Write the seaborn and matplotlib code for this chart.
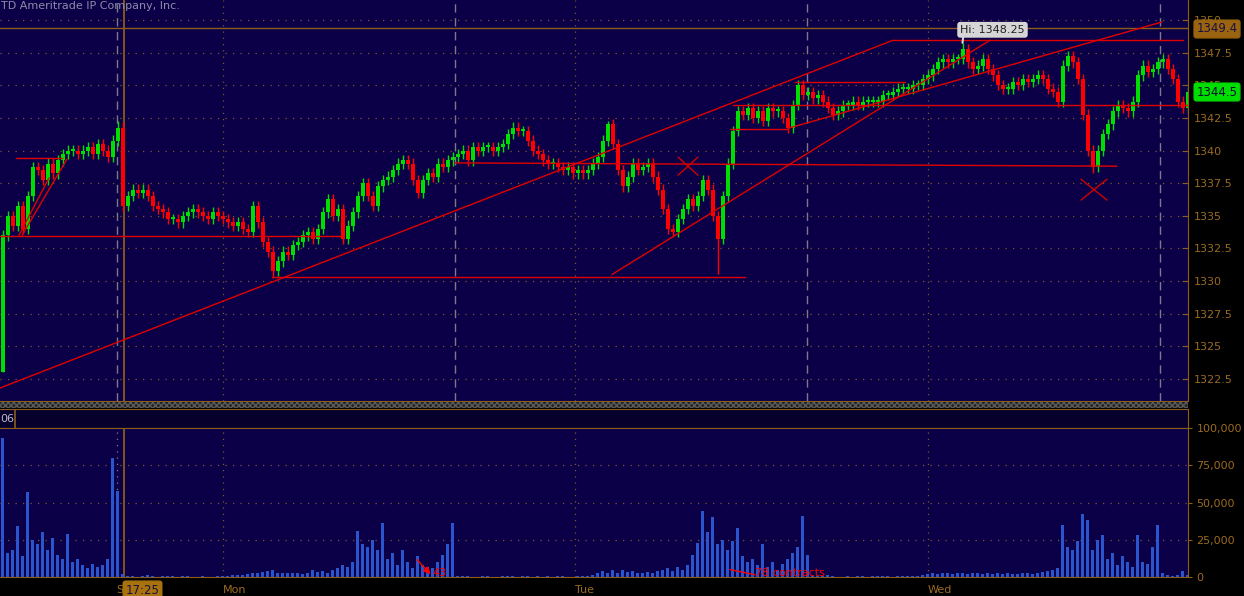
import numpy as np
import pandas as pd
import matplotlib
matplotlib.use('Agg')
import matplotlib.pyplot as plt
import seaborn as sns

# --- data (intraday bars) ---
first_open = 1323.0
closes = [
    1333.5, 1335, 1334.25, 1335.75, 1334, 1336.5, 1338.75, 1338.5, 1337.75, 1339,
    1338.25, 1339.25, 1339.75, 1340, 1340, 1339.75, 1340, 1340.25, 1339.75, 1340.5,
    1340, 1339.5, 1340.75, 1341.75, 1335.75, 1336.5, 1337, 1336.75, 1337, 1336.5,
    1335.75, 1335.5, 1335.25, 1334.75, 1334.75, 1334.5, 1335, 1335.25, 1335.5, 1335.25,
    1335, 1334.75, 1335.25, 1335, 1334.75, 1334.5, 1334.25, 1334.5, 1334, 1333.75,
    1335.75, 1334.5, 1333, 1332.25, 1330.75, 1331.5, 1332.25, 1332, 1332.75, 1333,
    1333.5, 1333.75, 1333.25, 1334, 1335.25, 1336.25, 1335, 1335.5, 1333.25, 1334.25,
    1335.25, 1336.5, 1337.5, 1336.5, 1335.75, 1337.25, 1337.75, 1338, 1338.5, 1339,
    1339.25, 1339, 1337.75, 1336.75, 1337.75, 1338.25, 1338, 1339, 1338.75, 1339.25,
    1339.5, 1339.75, 1340, 1339.25, 1340.25, 1340, 1340.25, 1340.25, 1340, 1340.25,
    1340.5, 1341.25, 1341.75, 1341.5, 1341.5, 1340.75, 1340, 1339.75, 1339.25, 1339,
    1339, 1338.75, 1338.5, 1338.75, 1338.25, 1338.5, 1338.25, 1338.5, 1339, 1339.5,
    1340.75, 1342, 1340.5, 1338.5, 1337.25, 1338, 1339, 1338.5, 1338.75, 1339,
    1338, 1337, 1335.5, 1334, 1333.75, 1334.75, 1335.5, 1336.25, 1335.75, 1336.5,
    1337.75, 1337, 1335, 1333.25, 1336.5, 1339, 1341.5, 1343, 1342.75, 1343.25,
    1342.5, 1343, 1342.25, 1343.25, 1343, 1343, 1342.5, 1341.75, 1343.5, 1345,
    1344.25, 1344.5, 1344, 1344.25, 1343.75, 1343.25, 1342.75, 1343, 1343.5, 1343.5,
    1343.75, 1343.5, 1343.75, 1343.75, 1343.75, 1343.75, 1344.25, 1344.25, 1344.5, 1344.75,
    1344.75, 1344.75, 1345, 1345, 1345.5, 1345.75, 1346.25, 1346.75, 1347, 1346.75,
    1347, 1347, 1347.75, 1346.75, 1346.25, 1346.5, 1347, 1346.25, 1345.75, 1345,
    1344.75, 1344.75, 1345.25, 1345, 1345.5, 1345.25, 1345.5, 1345.75, 1345.5, 1344.75,
    1344.5, 1343.75, 1346.5, 1347.25, 1346.75, 1345.5, 1342.75, 1340, 1338.75, 1340,
    1341.25, 1342, 1343, 1343.5, 1343.25, 1343, 1343.75, 1345.75, 1346.5, 1346,
    1346.25, 1346.75, 1347, 1346.25, 1345.5, 1343.75, 1343.25, 1344.5,
]
# bars whose wick reaches well past the body
spike_lows = {0: 1323.0, 54: 1330.25, 143: 1330.5, 218: 1338.25}
spike_highs = {23: 1342.25, 121: 1342.25, 192: 1348.25}

volume_k = [
    93, 16, 18, 34, 14, 57, 25, 22, 30, 18,
    26, 15, 12, 29, 10, 12, 8, 6, 9, 7,
    8, 12, 80, 58, 2, 1, 0.5, 0.3, 0.5, 1.5,
    0.5, 0.3, 0.6, 0.4, 0.5, 0.3, 0.8, 0.4, 0.3, 0.2,
    0.5, 0.3, 0.2, 0.4, 1, 0.5, 1.5, 1.2, 1.5, 2,
    3, 2.5, 3.5, 4, 5, 3, 2.5, 3, 2.5, 3,
    2, 3, 5, 3.5, 4, 3, 5, 6, 8, 7,
    10, 31, 22, 20, 25, 18, 36, 12, 16, 8,
    18, 10, 6, 14, 8, 7, 6, 10, 15, 22,
    36, 1, 0.8, 0.5, 0.3, 0.2, 0.5, 0.8, 0.3, 0.2,
    0.6, 1, 0.5, 0.3, 0.8, 0.5, 0.3, 0.6, 0.2, 0.5,
    0.3, 0.4, 0.8, 0.3, 0.2, 0.5, 0.6, 0.8, 1.5, 2.5,
    4, 3, 4.5, 3, 5, 3.5, 4, 2.5, 3, 3.5,
    2.5, 4, 5, 6, 4, 7, 5, 8, 15, 23,
    44, 30, 40, 22, 25, 18, 24, 33, 14, 10,
    12, 8, 22, 7, 10, 5, 9, 12, 16, 20,
    41, 15, 1, 0.5, 0.8, 1.2, 0.4, 0.3, 0.2, 0.5,
    0.3, 0.4, 0.8, 0.3, 0.5, 0.6, 0.5, 0.4, 0.3, 0.5,
    1, 0.5, 0.8, 1, 1.5, 2, 2.5, 2, 3, 2.5,
    2, 3, 2.5, 2, 2.5, 3, 2.2, 2.5, 2, 2.8,
    2.2, 2.5, 2, 2.3, 3, 2.5, 2, 2.8, 3.5, 4,
    5, 6, 35, 20, 18, 24, 42, 38, 18, 25,
    28, 12, 16, 8, 14, 10, 7, 28, 10, 9,
    20, 35, 3, 1.5, 1, 1.2, 4, 1.5,
]

day_labels = ['Mon', 'Tue', 'Wed']
day_pos = [44.1, 114.5, 185.1]          # bar index where each day starts
session_breaks = [22.9, 90.5, 160.9, 231.5]
cursor_bar = 24.3
cursor_price = 1349.4
last_price = 1344.5
high_price = 1348.25

# drawn trend lines: (x0, y0, x1, y1) in bar index / price
trend_lines = [
    (-0.5, 1321.8, 178.1, 1348.45), (178.1, 1348.45, 236.1, 1348.45),
    (121.9, 1330.5, 197.5, 1348.45),
    (157.1, 1341.7, 231.9, 1349.85),
    (53.9, 1330.3, 148.5, 1330.3),
    (-0.5, 1333.45, 67.5, 1333.45),
    (2.7, 1339.45, 11.9, 1339.45),
    (3.3, 1333.5, 9.3, 1337.9), (3.9, 1333.5, 12.9, 1339.35),
    (90.5, 1339.05, 222.9, 1338.8),
    (146.1, 1343.5, 237.1, 1343.5),
    (158.5, 1345.25, 180.5, 1345.25),
    (145.5, 1341.65, 157.1, 1341.65),
]
x_marks = [(137.1, 1338.8, 2.0, 0.7), (218.3, 1337.0, 2.6, 0.8)]

# --- build the OHLC table ---
df = pd.DataFrame({'close': closes, 'vol': np.array(volume_k) * 1000})
df['open'] = df['close'].shift(1).fillna(first_open)
df['top'] = df[['open', 'close']].max(axis=1)
df['bot'] = df[['open', 'close']].min(axis=1)
df['high'] = df['top'] + 0.4
df['low'] = df['bot'] - 0.4
for k, v in spike_lows.items():
    df.loc[k, 'low'] = v
for k, v in spike_highs.items():
    df.loc[k, 'high'] = v
df['up'] = df['close'] >= df['open']
df['idx'] = np.arange(len(df))

sns.set_style('dark')
plt.rcParams['font.family'] = ['DejaVu Sans']

BG = '#0b0047'
BROWN = '#8c5c1a'
TXT = '#9a6a22'
GREEN = '#00dd00'
RED = '#ff0000'
W, H = 1244, 596


def px_rect(x0, y0, x1, y1):
    return [x0 / W, 1 - y1 / H, (x1 - x0) / W, (y1 - y0) / H]


fig = plt.figure(figsize=(12.44, 5.96), dpi=100, facecolor='black')
ax = fig.add_axes(px_rect(0, 0, 1188, 401), facecolor=BG)
axh = fig.add_axes(px_rect(0, 402, 1188, 408), facecolor='#2a2a2a')
axs = fig.add_axes(px_rect(0, 409, 1188, 428), facecolor='#07002c')
axv = fig.add_axes(px_rect(0, 428, 1188, 577), facecolor=BG)

xlim = (-0.5, 237.1)

# price grid
yt = np.arange(1322.5, 1350.1, 2.5)
for y in yt:
    ax.axhline(y, color='#7a5a2a', lw=0.9, ls=(0, (1, 5)), zorder=0)
for d in day_pos:
    ax.axvline(d, color='#7a5a2a', lw=0.9, ls=(0, (1, 4)), zorder=0)
for s in session_breaks:
    ax.axvline(s, color='#7a7a8a', lw=1.0, ls=(0, (6, 4)), zorder=0)

# candles
colors = np.where(df['up'], GREEN, RED)
ax.vlines(df['idx'], df['low'], df['high'], colors=colors, lw=1.0, zorder=2)
ax.bar(df['idx'], (df['top'] - df['bot']).clip(lower=0.15), bottom=df['bot'],
       width=0.8, color=colors, linewidth=0, zorder=2)

# trend lines and marks
for x0, y0, x1, y1 in trend_lines:
    ax.plot([x0, x1], [y0, y1], color='#e00000', lw=1.0, zorder=3)
for cx, cy, dx, dy in x_marks:
    ax.plot([cx - dx, cx + dx], [cy + dy, cy - dy], color='#d00000', lw=1.0, zorder=3)
    ax.plot([cx - dx, cx + dx], [cy - dy, cy + dy], color='#d00000', lw=1.0, zorder=3)

# cursor
ax.axhline(cursor_price, color=BROWN, lw=1.0, zorder=1)
ax.axvline(cursor_bar, color=BROWN, lw=1.3, zorder=1)

ax.annotate('Hi: 1348.25', xy=(192, high_price), xytext=(198.0, cursor_price - 0.15),
            ha='center', va='center', fontsize=8, color='#202020',
            bbox=dict(boxstyle='round,pad=0.2', fc='#d6d6d6', ec='#d6d6d6'),
            arrowprops=dict(arrowstyle='-', color='#d6d6d6', lw=1.5,
                            shrinkA=0, shrinkB=0, relpos=(0.05, 0)),
            zorder=5)

ax.set_xlim(*xlim)
ax.set_ylim(1351.533 - 401 / 13.05, 1351.533)
ax.set_yticks(yt)
ax.set_yticklabels(['%g' % v for v in yt])
ax.yaxis.tick_right()
ax.tick_params(axis='y', direction='in', length=4, color=BROWN, labelcolor=TXT,
               labelsize=8, pad=4, right=True, left=False)
ax.set_xticks([])
for sp in ax.spines.values():
    sp.set_visible(False)
ax.spines['right'].set_visible(True)
ax.spines['right'].set_color(BROWN)
ax.spines['bottom'].set_visible(True)
ax.spines['bottom'].set_color(BROWN)
ax.grid(False)

fig.text(1 / W, 1 - 1 / H, 'TD Ameritrade IP Company, Inc.', color='#8c8ca8',
         fontsize=8, va='top', ha='left', zorder=4)

# hatched separator strip
axh.add_patch(plt.Rectangle((0, 0), 1, 1, transform=axh.transAxes, fc='#222222',
                            ec='#5a5a5a', hatch='xxxxxx', lw=0))
axh.set_xticks([]); axh.set_yticks([])
for sp in axh.spines.values():
    sp.set_visible(False)

# study header strip
axs.set_xlim(0, 1188); axs.set_ylim(0, 1)
axs.axvline(15, color=BROWN, lw=1.2)
axs.text(0, 0.5, '06', color='#b8b8c8', fontsize=8, va='center', ha='left')
axs.set_xticks([]); axs.set_yticks([])
for sp in axs.spines.values():
    sp.set_color(BROWN)
axs.spines['left'].set_visible(False)

# volume
for y in [25000, 50000, 75000]:
    axv.axhline(y, color='#7a5a2a', lw=0.9, ls=(0, (1, 5)), zorder=0)
for d in day_pos:
    axv.axvline(d, color='#7a5a2a', lw=0.9, ls=(0, (1, 4)), zorder=0)
axv.axvline(session_breaks[0], color='#7a7a8a', lw=0.9, ls=(0, (1, 4)), zorder=0)
sns.barplot(data=df, x='idx', y='vol', ax=axv, color='#2a55cc', native_scale=True,
            width=0.6, errorbar=None, linewidth=0, saturation=1, zorder=2)
axv.axvline(cursor_bar, color=BROWN, lw=1.3, zorder=1)
axv.annotate('', xy=(86, 500), xytext=(82.5, 13000),
             arrowprops=dict(arrowstyle='-|>', color=RED, lw=1.0))
axv.text(86, -900, '43', color=RED, fontsize=8, va='bottom', clip_on=True)
axv.plot([145.5, 150.5], [5000, 1500], color=RED, lw=1.0)
axv.text(150.5, -900, '78 contracts', color=RED, fontsize=8, va='bottom', clip_on=True)

axv.set_xlim(*xlim)
axv.set_ylim(0, 100000)
axv.set_xticks([])
axv.set_yticks([0, 25000, 50000, 75000, 100000])
axv.set_yticklabels(['0', '25,000', '50,000', '75,000', '100,000'])
axv.yaxis.tick_right()
axv.tick_params(axis='y', direction='out', length=3, color=BROWN, labelcolor=TXT,
                labelsize=8, pad=3, right=True, left=False)
axv.set_xlabel(''); axv.set_ylabel('')
for sp in axv.spines.values():
    sp.set_visible(False)
for s in ['right', 'bottom', 'top']:
    axv.spines[s].set_visible(True)
    axv.spines[s].set_color(BROWN)
axv.grid(False)

# bottom time labels
for lab, d in zip(day_labels, day_pos):
    fig.text((d * 5 + 2.5) / W, 1 - 590 / H, lab, color=TXT, fontsize=8,
             ha='left', va='center')
fig.text(116 / W, 1 - 590 / H, 'S', color=TXT, fontsize=8, ha='left', va='center')
fig.text(142.5 / W, 1 - 590 / H, '17:25', color='#1a1040', fontsize=8.5,
         ha='center', va='center',
         bbox=dict(boxstyle='round,pad=0.2', fc='#a8720e', ec='#a8720e'))

# price flags on the right axis
fig.text(1217 / W, 1 - 29 / H, '%.1f' % cursor_price, color='#1a1040', fontsize=8.5,
         ha='center', va='center',
         bbox=dict(boxstyle='round,pad=0.2', fc='#9a6410', ec='#9a6410'))
fig.text(1217 / W, 1 - 92 / H, '%.1f' % last_price, color='#0a1030', fontsize=8.5,
         ha='center', va='center',
         bbox=dict(boxstyle='round,pad=0.2', fc='#00dd00', ec='#00dd00'))

plt.savefig('out.png', dpi=100, facecolor='black')
